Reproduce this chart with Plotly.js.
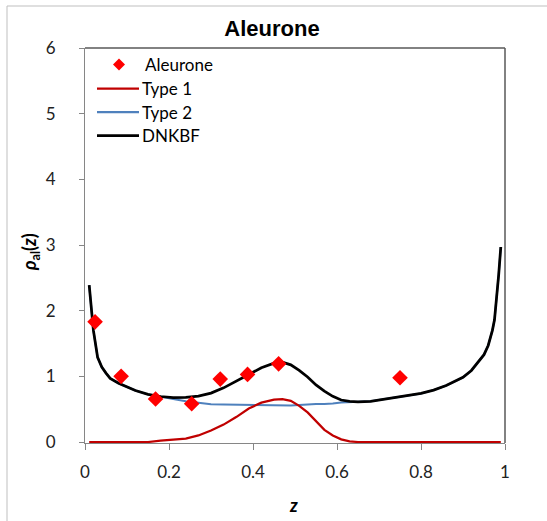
<!DOCTYPE html>
<html>
<head>
<meta charset="utf-8">
<script src="https://cdn.plot.ly/plotly-3.0.1.min.js"></script>
<style>html,body{margin:0;padding:0;background:#fff;}</style>
</head>
<body>
<div id="chart" style="width:547px;height:521px;"></div>
<script>
// Measured points (Aleurone)
var pointZ = [0.024, 0.086, 0.168, 0.254, 0.322, 0.387, 0.461, 0.750];
var pointRho = [1.83, 1.00, 0.654, 0.583, 0.958, 1.03, 1.19, 0.979];

// Model curves on a common z grid
var gridZ = [0.01, 0.015, 0.02, 0.03, 0.04, 0.05, 0.06, 0.08, 0.1, 0.12, 0.15, 0.18, 0.21, 0.24, 0.27, 0.3,
  0.33, 0.36, 0.39, 0.42, 0.45, 0.47, 0.49, 0.51, 0.53, 0.55, 0.57, 0.59, 0.61, 0.63, 0.65, 0.68, 0.71,
  0.74, 0.77, 0.8, 0.83, 0.86, 0.88, 0.9, 0.92, 0.94, 0.95, 0.96, 0.97, 0.975, 0.98, 0.985, 0.99];
var dnkbf = [2.39, 2.0, 1.70, 1.29, 1.14, 1.05, 0.97, 0.895, 0.84, 0.785, 0.725, 0.693, 0.675, 0.678, 0.70, 0.745,
  0.825, 0.925, 1.035, 1.13, 1.20, 1.215, 1.175, 1.09, 0.99, 0.87, 0.775, 0.695, 0.64, 0.618, 0.613, 0.62, 0.65,
  0.685, 0.71, 0.74, 0.79, 0.86, 0.92, 0.985, 1.09, 1.24, 1.33, 1.47, 1.70, 1.86, 2.17, 2.55, 2.97];
var type1 = [0, 0, 0, 0, 0, 0, 0, 0, 0, 0, 0, 0.02, 0.035, 0.053, 0.10, 0.175,
  0.265, 0.38, 0.51, 0.60, 0.645, 0.652, 0.628, 0.55, 0.45, 0.31, 0.185, 0.10, 0.04, 0.01, 0, 0, 0,
  0, 0, 0, 0, 0, 0, 0, 0, 0, 0, 0, 0, 0, 0, 0, 0];
var type2 = [2.39, 2.0, 1.70, 1.29, 1.14, 1.05, 0.97, 0.895, 0.84, 0.785, 0.725, 0.685, 0.655, 0.62, 0.60, 0.575,
  0.57, 0.568, 0.565, 0.56, 0.555, 0.553, 0.555, 0.565, 0.575, 0.578, 0.58, 0.585, 0.603, 0.608, 0.612, 0.62, 0.65,
  0.685, 0.71, 0.74, 0.79, 0.86, 0.92, 0.985, 1.09, 1.24, 1.33, 1.47, 1.70, 1.86, 2.17, 2.55, 2.97];

var xTicks = [0, 0.2, 0.4, 0.6, 0.8, 1];
var xTickText = ['0', '0.2', '0.4', '0.6', '0.8', '1'];
var yTicks = [0, 1, 2, 3, 4, 5, 6];

var legendNames = ['Aleurone', 'Type 1', 'Type 2', 'DNKBF'];
var legendColors = ['#ff0000', '#c00000', '#4f81bd', '#000000'];

var FONT = 'Lato, "Open Sans", sans-serif';

// plot area in pixels: x 85..505, y 48..443
function PX(px) { return (px - 85) / 420; }
function PY(py) { return 1 - (py - 48) / 395; }

var traces = [
  {x: gridZ, y: type2, type: 'scatter', mode: 'lines', name: legendNames[2],
   line: {color: legendColors[2], width: 2}},
  {x: gridZ, y: type1, type: 'scatter', mode: 'lines', name: legendNames[1],
   line: {color: legendColors[1], width: 2.25}},
  {x: gridZ, y: dnkbf, type: 'scatter', mode: 'lines', name: legendNames[3],
   line: {color: legendColors[3], width: 2.75}},
  {x: pointZ, y: pointRho, type: 'scatter', mode: 'markers', name: legendNames[0], cliponaxis: false,
   marker: {symbol: 'diamond', color: legendColors[0], size: 12}}
];

// Manual legend
var legRowY = [64.5, 88.5, 112, 135.5];
var shapes = [
  {type: 'line', xref: 'paper', yref: 'paper', x0: 0, x1: 1, y0: 1, y1: 1, line: {color: '#595959', width: 1.5}},
  {type: 'line', xref: 'paper', yref: 'paper', x0: 1, x1: 1, y0: 0, y1: 1, line: {color: '#595959', width: 1.5}},
  {type: 'line', xref: 'paper', yref: 'paper', x0: PX(7), x1: PX(560), y0: PY(6), y1: PY(6), line: {color: '#bfbfbf', width: 1}},
  {type: 'line', xref: 'paper', yref: 'paper', x0: PX(7), x1: PX(7), y0: PY(530), y1: PY(6), line: {color: '#bfbfbf', width: 1}},
  // legend diamond
  {type: 'path', xref: 'paper', yref: 'paper', fillcolor: legendColors[0], line: {width: 0},
   path: 'M ' + PX(119) + ' ' + PY(legRowY[0] - 6) + ' L ' + PX(125) + ' ' + PY(legRowY[0]) + ' L ' + PX(119) + ' ' + PY(legRowY[0] + 6) + ' L ' + PX(113) + ' ' + PY(legRowY[0]) + ' Z'}
];
var annotations = [
  {text: '<b><i>ρ</i><sub>al</sub>(<i>z</i>)</b>', xref: 'paper', yref: 'paper', x: PX(30), y: PY(252),
   textangle: -90, showarrow: false, xanchor: 'center', yanchor: 'middle',
   font: {family: FONT, size: 18, color: '#000'}},
  {text: '<b><i>z</i></b>', xref: 'paper', yref: 'paper', x: PX(293), y: PY(505),
   showarrow: false, xanchor: 'center', yanchor: 'middle',
   font: {family: FONT, size: 18, color: '#000'}}
];
for (var i = 0; i < legendNames.length; i++) {
  if (i > 0) {
    shapes.push({type: 'line', xref: 'paper', yref: 'paper', x0: PX(97), x1: PX(139), y0: PY(legRowY[i]), y1: PY(legRowY[i]),
      line: {color: legendColors[i], width: i === 3 ? 2.75 : 2.25}});
  }
  annotations.push({text: legendNames[i], xref: 'paper', yref: 'paper', x: PX(i === 0 ? 143 : 140), y: PY(legRowY[i]),
    showarrow: false, xanchor: 'left', yanchor: 'middle', font: {family: FONT, size: 17, color: '#000'}});
}

var layout = {
  width: 547, height: 521,
  margin: {l: 85, r: 42, t: 48, b: 78},
  paper_bgcolor: '#ffffff', plot_bgcolor: '#ffffff',
  showlegend: false,
  title: {text: '<b>Aleurone</b>', font: {family: '"Liberation Sans", Arial, sans-serif', size: 22, color: '#000'},
    x: 272 / 547, xref: 'container', xanchor: 'center', y: 1 - 28 / 521, yref: 'container', yanchor: 'middle'},
  xaxis: {range: [0, 1], tickvals: xTicks, ticktext: xTickText, ticks: 'outside', ticklen: 6, tickcolor: '#868686',
    showline: true, linecolor: '#868686', linewidth: 1, showgrid: false, zeroline: false, layer: 'below traces',
    ticklabelstandoff: 8,
    tickfont: {family: FONT, size: 17, color: '#222'}, fixedrange: true},
  yaxis: {range: [-0.015, 6], tickvals: yTicks, ticks: 'outside', ticklen: 5, tickcolor: '#868686',
    showline: true, linecolor: '#868686', linewidth: 1, showgrid: false, zeroline: false, layer: 'below traces',
    ticklabelstandoff: 20,
    tickfont: {family: FONT, size: 17, color: '#222'}, fixedrange: true},
  annotations: annotations,
  shapes: shapes
};

Plotly.newPlot('chart', traces, layout, {displayModeBar: false, staticPlot: true});
</script>
</body>
</html>
